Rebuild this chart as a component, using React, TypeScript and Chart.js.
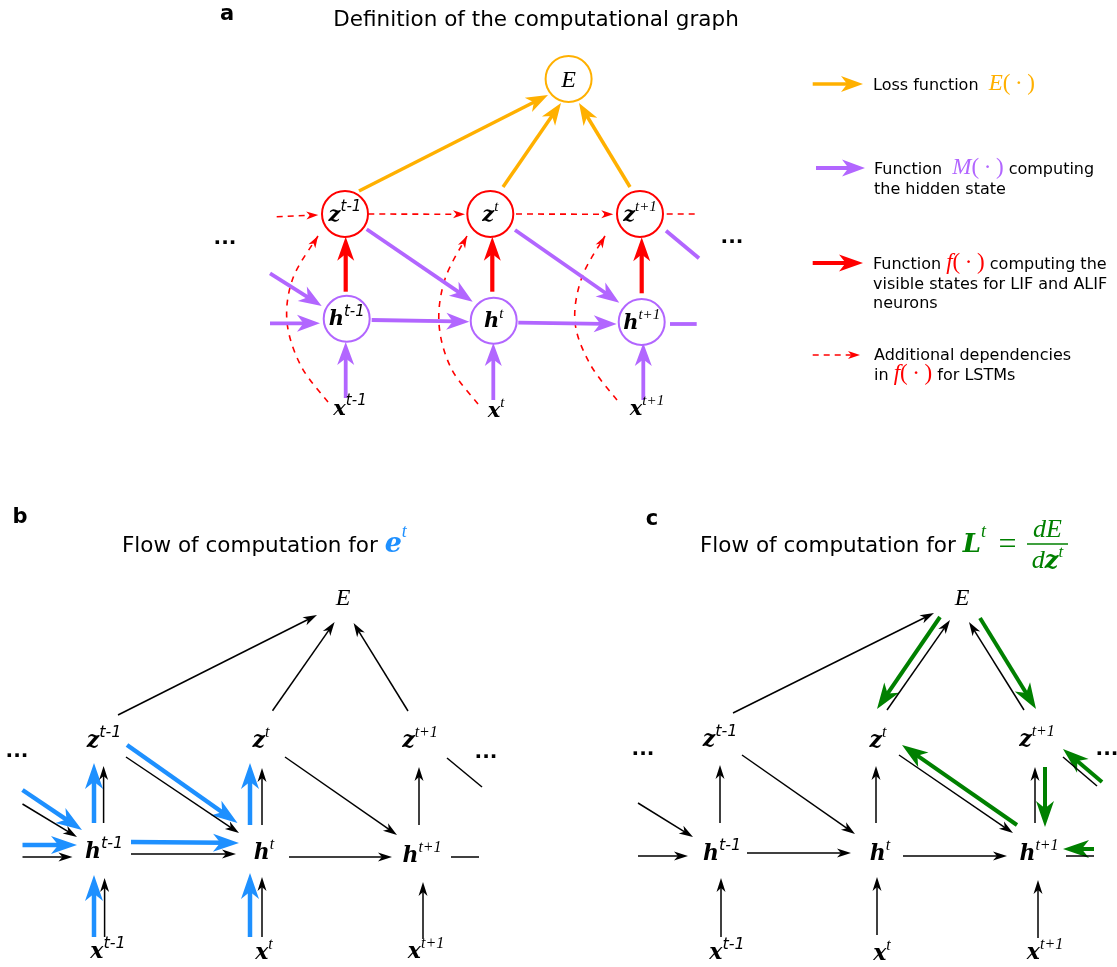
import { useEffect, useRef } from 'react';
import { Chart, registerables } from 'chart.js';

Chart.register(...registerables);

const W = 1117;
const H = 967;

const ORANGE = '#ffb000';
const PURPLE = '#b266ff';
const RED = '#ff0000';
const BLUE = '#1e90ff';
const GREEN = '#008000';
const BLACK = '#000000';

type Seg = [number, number, number, number];
type Lab = [string, string, number, number];

// ---------------- Panel a : circle nodes ----------------
const circleX = [568.6, 345, 490.3, 640, 346.7, 493.7, 641.7];
const circleY = [79, 214, 214, 214, 318.7, 320.7, 322];
const circleColor = [ORANGE, RED, RED, RED, PURPLE, PURPLE, PURPLE];

// ---------------- Panel a : edges ----------------
const lossEdgesA: Seg[] = [
  [359, 191, 548, 95],
  [503, 187, 561, 103],
  [630, 187, 579, 103],
];
const visibleEdgesA: Seg[] = [
  [345.7, 291.7, 345.7, 236.7],
  [492.3, 291.7, 492.3, 236.7],
  [641.7, 293.3, 641.7, 237.3],
];
const hiddenEdgesA: Seg[] = [
  [345.7, 398, 345.7, 342],
  [493.3, 400, 493.3, 343],
  [643.3, 400, 643.3, 343],
  [371.7, 320, 469.3, 321.7],
  [518.3, 322.7, 616.7, 324],
  [366.7, 229.3, 472.7, 301.7],
  [515, 230, 619.3, 302.7],
  [270, 273.3, 321.7, 306],
  [270, 323.3, 320, 323.3],
];
const hiddenOpenA: Seg[] = [
  [670, 324, 696.7, 324],
  [666, 230.7, 699, 258.3],
];
const lstmEdgesA: Seg[] = [
  [276.7, 216.7, 318.3, 215],
  [368.3, 214, 465, 214.3],
  [516, 214, 613.3, 214.3],
];
const lstmOpenA: Seg[] = [[666.7, 214, 696.7, 214]];
const arc1X = [328, 301, 287, 293, 318];
const arc1Y = [402, 366, 322, 278, 236];
const arc2X = [478, 451, 439, 445, 467];
const arc2Y = [404, 368, 324, 279, 236];
const arc3X = [617, 590, 575, 582, 605];
const arc3Y = [400, 364, 322, 277, 236];

// legend arrows
const legendLoss: Seg[] = [[812.7, 84, 863, 84]];
const legendHidden: Seg[] = [[816, 168, 865, 168]];
const legendVisible: Seg[] = [[812.7, 263, 863, 263]];
const legendLstm: Seg[] = [[812.7, 355, 860, 355]];

// ---------------- Panel b ----------------
const blackEdgesB: Seg[] = [
  [118, 715, 317, 615],
  [272.5, 710.7, 334.6, 622],
  [408, 711, 353.6, 623],
  [22.5, 804, 77, 837],
  [22.5, 857, 72.5, 857],
  [103.6, 823, 103.6, 766],
  [104.6, 937, 104.6, 878],
  [131, 854, 236, 854],
  [126, 757, 239, 833],
  [262, 825, 262, 768],
  [262, 937, 262, 877],
  [285, 757, 397, 835],
  [289, 857, 392, 857],
  [419, 825, 419, 767],
  [423, 939, 423, 882],
];
const blackOpenB: Seg[] = [
  [447, 758, 482, 787],
  [451, 857, 479, 857],
];
const blueEdgesB: Seg[] = [
  [22.5, 790, 82, 830],
  [22.5, 845, 77, 845],
  [94, 823, 94, 763],
  [94, 937, 94, 875],
  [131, 842, 239, 843],
  [127, 745, 237.5, 823],
  [250, 825, 250, 763],
  [250, 937, 250, 873],
];

// ---------------- Panel c ----------------
const blackEdgesC: Seg[] = [
  [733, 713, 934, 613],
  [887, 710, 950, 620],
  [1024, 710, 969, 622],
  [638, 803, 693, 837],
  [638, 856, 688, 856],
  [720, 823, 720, 765],
  [721, 937, 721, 878],
  [747, 853, 851, 853],
  [742, 755, 855, 834],
  [876, 823, 876, 766],
  [877, 935, 877, 877],
  [899, 755, 1013, 833],
  [903, 856, 1007, 856],
  [1035, 823, 1035, 767],
  [1038, 938, 1038, 880],
];
const blackOpenC: Seg[] = [
  [1063, 757, 1097, 786],
  [1066, 856, 1094, 856],
];
const greenEdgesC: Seg[] = [
  [940, 617, 877, 709],
  [980, 618, 1036, 709],
  [1017, 825, 902, 745],
  [1045, 767, 1045, 827],
  [1102, 782, 1063, 749],
  [1094, 849, 1063, 849],
];

// ---------------- labels ----------------
const varLabelsA: Lab[] = [
  ['z', 't-1', 345, 214], ['z', 't', 490.3, 214], ['z', 't+1', 640, 214],
  ['h', 't-1', 346.7, 318.7], ['h', 't', 493.7, 320.7], ['h', 't+1', 641.7, 322],
  ['x', 't-1', 350, 408], ['x', 't', 496, 410], ['x', 't+1', 647, 408],
];
const varLabelsBC: Lab[] = [
  ['z', 't-1', 104, 740], ['z', 't', 261, 740], ['z', 't+1', 420, 740],
  ['h', 't-1', 104, 851], ['h', 't', 264, 852], ['h', 't+1', 422, 855],
  ['x', 't-1', 108, 951], ['x', 't', 264, 952], ['x', 't+1', 426, 951],
  ['z', 't-1', 720, 739], ['z', 't', 878, 740], ['z', 't+1', 1037, 739],
  ['h', 't-1', 722, 853], ['h', 't', 880, 853], ['h', 't+1', 1039, 853],
  ['x', 't-1', 727, 952], ['x', 't', 882, 953], ['x', 't+1', 1045, 952],
];
const lossLabelX = [568.6, 343, 962];
const lossLabelY = [79, 597, 597];
const ellipsisX = [225, 732, 17, 486, 643, 1107];
const ellipsisY = [239, 238, 752, 753, 750, 750];

type EdgeStyle = {
  color: string;
  lw: number;
  head: number;
  hw: number;
  dash?: number[];
  curve?: boolean;
  ring?: number;
};

const S_ORANGE: EdgeStyle = { color: ORANGE, lw: 3.5, head: 22, hw: 8 };
const S_PURPLE: EdgeStyle = { color: PURPLE, lw: 3.8, head: 23, hw: 8.5 };
const S_PURPLE_OPEN: EdgeStyle = { color: PURPLE, lw: 3.8, head: 0, hw: 0 };
const S_RED: EdgeStyle = { color: RED, lw: 4.2, head: 24, hw: 8.5 };
const S_DASH: EdgeStyle = { color: RED, lw: 1.6, head: 12, hw: 4, dash: [6, 5] };
const S_DASH_OPEN: EdgeStyle = { color: RED, lw: 1.6, head: 0, hw: 0, dash: [6, 5] };
const S_CURVE: EdgeStyle = { color: RED, lw: 1.6, head: 12, hw: 4, dash: [6, 6], curve: true };
const S_BLACK: EdgeStyle = { color: BLACK, lw: 1.5, head: 14, hw: 4.5 };
const S_BLACK_OPEN: EdgeStyle = { color: BLACK, lw: 1.5, head: 0, hw: 0 };
const S_BLUE: EdgeStyle = { color: BLUE, lw: 4.5, head: 26, hw: 9 };
const S_GREEN: EdgeStyle = { color: GREEN, lw: 4, head: 26, hw: 9 };
const S_RING: EdgeStyle = { color: BLACK, lw: 2, head: 0, hw: 0, ring: 23 };

function edgeSets(segs: Seg[], st: EdgeStyle) {
  return segs.map((s) => ({
    type: 'line',
    data: [
      { x: s[0], y: s[1] },
      { x: s[2], y: s[3] },
    ],
    borderColor: st.color,
    borderWidth: 0,
    pointRadius: 0,
    pointHoverRadius: 0,
    clip: false,
    edge: st,
  }));
}

function curveSet(xs: number[], ys: number[], st: EdgeStyle) {
  return {
    type: 'line',
    data: xs.map((x, i) => ({ x, y: ys[i] })),
    borderColor: st.color,
    borderWidth: 0,
    pointRadius: 0,
    pointHoverRadius: 0,
    clip: false,
    edge: st,
  };
}

function drawHead(ctx: CanvasRenderingContext2D, tx: number, ty: number, ux: number, uy: number, st: EdgeStyle) {
  const px = -uy;
  const py = ux;
  const bx = tx - ux * st.head;
  const by = ty - uy * st.head;
  const nx = tx - ux * st.head * 0.72;
  const ny = ty - uy * st.head * 0.72;
  ctx.setLineDash([]);
  ctx.fillStyle = st.color;
  ctx.beginPath();
  ctx.moveTo(tx, ty);
  ctx.lineTo(bx + px * st.hw, by + py * st.hw);
  ctx.lineTo(nx, ny);
  ctx.lineTo(bx - px * st.hw, by - py * st.hw);
  ctx.closePath();
  ctx.fill();
}

function drawEdge(ctx: CanvasRenderingContext2D, x1: number, y1: number, x2: number, y2: number, st: EdgeStyle) {
  const dx = x2 - x1;
  const dy = y2 - y1;
  const L = Math.hypot(dx, dy) || 1;
  const ux = dx / L;
  const uy = dy / L;
  ctx.save();
  ctx.strokeStyle = st.color;
  ctx.lineWidth = st.lw;
  ctx.lineCap = 'butt';
  ctx.setLineDash(st.dash || []);
  const cut = st.head ? st.head * 0.6 : 0;
  ctx.beginPath();
  ctx.moveTo(x1, y1);
  ctx.lineTo(x2 - ux * cut, y2 - uy * cut);
  ctx.stroke();
  if (st.head) drawHead(ctx, x2, y2, ux, uy, st);
  ctx.restore();
}

// Catmull-Rom spline through the pixel positions Chart.js computed
function drawCurve(ctx: CanvasRenderingContext2D, pts: { x: number; y: number }[], st: EdgeStyle) {
  ctx.save();
  ctx.strokeStyle = st.color;
  ctx.lineWidth = st.lw;
  ctx.setLineDash(st.dash || []);
  ctx.beginPath();
  ctx.moveTo(pts[0].x, pts[0].y);
  let lastC = { x: pts[0].x, y: pts[0].y };
  for (let i = 0; i < pts.length - 1; i++) {
    const p0 = pts[Math.max(0, i - 1)];
    const p1 = pts[i];
    const p2 = pts[i + 1];
    const p3 = pts[Math.min(pts.length - 1, i + 2)];
    const c1 = { x: p1.x + (p2.x - p0.x) / 6, y: p1.y + (p2.y - p0.y) / 6 };
    const c2 = { x: p2.x - (p3.x - p1.x) / 6, y: p2.y - (p3.y - p1.y) / 6 };
    ctx.bezierCurveTo(c1.x, c1.y, c2.x, c2.y, p2.x, p2.y);
    lastC = c2;
  }
  ctx.stroke();
  const end = pts[pts.length - 1];
  const L = Math.hypot(end.x - lastC.x, end.y - lastC.y) || 1;
  drawHead(ctx, end.x, end.y, (end.x - lastC.x) / L, (end.y - lastC.y) / L, st);
  ctx.restore();
}

type Run = [string, string, string, number?];

function drawRuns(ctx: CanvasRenderingContext2D, runs: Run[], x: number, y: number, align: 'left' | 'center') {
  ctx.textBaseline = 'alphabetic';
  ctx.textAlign = 'left';
  let total = 0;
  const widths = runs.map((r) => {
    ctx.font = r[1];
    const w = ctx.measureText(r[0]).width;
    total += w;
    return w;
  });
  let cx = align === 'center' ? x - total / 2 : x;
  runs.forEach((r, i) => {
    ctx.font = r[1];
    ctx.fillStyle = r[2];
    ctx.fillText(r[0], cx, y + (r[3] || 0));
    cx += widths[i];
  });
}

const SANS = '"DejaVu Sans"';
const SERIF = '"DejaVu Serif"';
const TIMES = '"Liberation Serif"';

function supFont(sup: string, size: number) {
  return sup === 't-1' ? `italic ${size}px ${SANS}` : `italic ${size}px ${TIMES}`;
}

function drawVar(ctx: CanvasRenderingContext2D, lab: Lab, cx: number, cy: number, size: number, color: string) {
  const ss = Math.round(size * 0.72);
  const base = cy + size * 0.32;
  drawRuns(
    ctx,
    [
      [lab[0], `bold italic ${size}px ${SERIF}`, color],
      [lab[1], supFont(lab[1], ss), color, -size * 0.45],
    ],
    cx,
    base,
    'center'
  );
}

const diagramPlugin = {
  id: 'diagram',
  beforeDatasetDraw(chart: any, args: any) {
    const ds = chart.data.datasets[args.index];
    const st: EdgeStyle | undefined = ds.edge;
    if (!st) return;
    const pts = args.meta.data;
    const ctx: CanvasRenderingContext2D = chart.ctx;
    if (st.ring) {
      ctx.save();
      ctx.lineWidth = st.lw;
      pts.forEach((p: any, i: number) => {
        ctx.beginPath();
        ctx.arc(p.x, p.y, st.ring as number, 0, Math.PI * 2);
        ctx.fillStyle = '#ffffff';
        ctx.fill();
        ctx.strokeStyle = circleColor[i];
        ctx.stroke();
      });
      ctx.restore();
      return false;
    }
    if (st.curve) {
      drawCurve(ctx, pts, st);
      return false;
    }
    const a = pts[0];
    const b = pts[pts.length - 1];
    drawEdge(ctx, a.x, a.y, b.x, b.y, st);
    return false;
  },
  afterDatasetsDraw(chart: any) {
    const ctx: CanvasRenderingContext2D = chart.ctx;
    const sx = (v: number) => chart.scales.x.getPixelForValue(v);
    const sy = (v: number) => chart.scales.y.getPixelForValue(v);
    ctx.save();

    // panel letters
    ctx.fillStyle = BLACK;
    ctx.font = `bold 21px ${SANS}`;
    ctx.textAlign = 'center';
    ctx.textBaseline = 'middle';
    ctx.fillText('a', sx(227), sy(15));
    ctx.fillText('b', sx(20), sy(518));
    ctx.fillText('c', sx(652), sy(520));

    // titles
    drawRuns(ctx, [['Definition of the computational graph', `21.5px ${SANS}`, BLACK]], sx(536), sy(26), 'center');
    drawRuns(
      ctx,
      [
        ['Flow of computation for ', `21.5px ${SANS}`, BLACK],
        ['e', `bold italic 27px ${SERIF}`, BLUE],
        ['t', `italic 18px ${TIMES}`, BLUE, -15],
      ],
      sx(122),
      sy(552),
      'left'
    );
    drawRuns(
      ctx,
      [
        ['Flow of computation for ', `21.5px ${SANS}`, BLACK],
        ['L', `bold italic 26px ${SERIF}`, GREEN],
        ['t', `italic 18px ${TIMES}`, GREEN, -15],
      ],
      sx(700),
      sy(552),
      'left'
    );
    drawRuns(ctx, [['=', `32px ${TIMES}`, GREEN]], sx(1007.5), sy(554), 'center');
    // fraction dE / dz^t
    drawRuns(
      ctx,
      [
        ['d', `italic 26px ${TIMES}`, GREEN],
        ['E', `italic 26px ${TIMES}`, GREEN],
      ],
      sx(1047.5),
      sy(537),
      'center'
    );
    ctx.strokeStyle = GREEN;
    ctx.lineWidth = 1.4;
    ctx.beginPath();
    ctx.moveTo(sx(1027), sy(544));
    ctx.lineTo(sx(1068), sy(544));
    ctx.stroke();
    drawRuns(
      ctx,
      [
        ['d', `italic 26px ${TIMES}`, GREEN],
        ['z', `bold italic 24px ${SERIF}`, GREEN],
        ['t', `italic 17px ${TIMES}`, GREEN, -11],
      ],
      sx(1047.5),
      sy(568),
      'center'
    );

    // loss labels
    lossLabelX.forEach((x, i) => {
      drawRuns(ctx, [['E', `italic 24px ${TIMES}`, BLACK]], sx(x), sy(lossLabelY[i] + 8), 'center');
    });

    // variables
    varLabelsA.forEach((l) => drawVar(ctx, l, sx(l[2]), sy(l[3]), 21, BLACK));
    varLabelsBC.forEach((l) => drawVar(ctx, l, sx(l[2]), sy(l[3]), 22, BLACK));

    // ellipses
    ellipsisX.forEach((x, i) => {
      drawRuns(ctx, [['...', `bold 20px ${SANS}`, BLACK]], sx(x), sy(ellipsisY[i] + 5), 'center');
    });

    // legend texts
    const F = `16px ${SANS}`;
    const M = (s: number) => `italic ${s}px ${TIMES}`;
    const U = (s: number) => `${s}px ${TIMES}`;
    drawRuns(
      ctx,
      [
        ['Loss function  ', F, BLACK],
        ['E', M(23), ORANGE],
        ['(\u2009·\u2009)', U(23), ORANGE],
      ],
      sx(873),
      sy(90),
      'left'
    );
    drawRuns(
      ctx,
      [
        ['Function  ', F, BLACK],
        ['M', M(23), PURPLE],
        ['(\u2009·\u2009)', U(23), PURPLE],
        [' computing', F, BLACK],
      ],
      sx(874),
      sy(174),
      'left'
    );
    drawRuns(ctx, [['the hidden state', F, BLACK]], sx(874), sy(194), 'left');
    drawRuns(
      ctx,
      [
        ['Function ', F, BLACK],
        ['f', M(23), RED],
        ['(\u2009·\u2009)', U(23), RED],
        [' computing the', F, BLACK],
      ],
      sx(873),
      sy(269),
      'left'
    );
    drawRuns(ctx, [['visible states for LIF and ALIF', F, BLACK]], sx(873), sy(288.5), 'left');
    drawRuns(ctx, [['neurons', F, BLACK]], sx(873), sy(308), 'left');
    drawRuns(ctx, [['Additional dependencies', F, BLACK]], sx(874), sy(360), 'left');
    drawRuns(
      ctx,
      [
        ['in ', F, BLACK],
        ['f', M(23), RED],
        ['(\u2009·\u2009)', U(23), RED],
        [' for LSTMs', F, BLACK],
      ],
      sx(874),
      sy(380),
      'left'
    );

    ctx.restore();
  },
};

export default function App() {
  const ref = useRef<HTMLCanvasElement>(null);
  useEffect(() => {
    const nodes = {
      type: 'scatter',
      data: circleX.map((x, i) => ({ x, y: circleY[i] })),
      pointRadius: 0,
      pointHoverRadius: 0,
      borderWidth: 0,
      clip: false,
      edge: S_RING,
    };
    const datasets: any[] = [
      nodes,
      ...edgeSets(lossEdgesA, S_ORANGE),
      ...edgeSets(visibleEdgesA, S_RED),
      ...edgeSets(hiddenEdgesA, S_PURPLE),
      ...edgeSets(hiddenOpenA, S_PURPLE_OPEN),
      ...edgeSets(lstmEdgesA, S_DASH),
      ...edgeSets(lstmOpenA, S_DASH_OPEN),
      curveSet(arc1X, arc1Y, S_CURVE),
      curveSet(arc2X, arc2Y, S_CURVE),
      curveSet(arc3X, arc3Y, S_CURVE),
      ...edgeSets(legendLoss, S_ORANGE),
      ...edgeSets(legendHidden, S_PURPLE),
      ...edgeSets(legendVisible, S_RED),
      ...edgeSets(legendLstm, S_DASH),
      ...edgeSets(blackEdgesB, S_BLACK),
      ...edgeSets(blackOpenB, S_BLACK_OPEN),
      ...edgeSets(blueEdgesB, S_BLUE),
      ...edgeSets(blackEdgesC, S_BLACK),
      ...edgeSets(blackOpenC, S_BLACK_OPEN),
      ...edgeSets(greenEdgesC, S_GREEN),
    ];
    const chart = new Chart(ref.current as HTMLCanvasElement, {
      type: 'scatter',
      data: { datasets },
      options: {
        animation: false,
        responsive: false,
        devicePixelRatio: 1,
        events: [],
        layout: { padding: 0 },
        plugins: {
          legend: { display: false },
          tooltip: { enabled: false },
          title: { display: false },
        },
        scales: {
          x: { type: 'linear', min: 0, max: W, display: false },
          y: { type: 'linear', min: 0, max: H, reverse: true, display: false },
        },
      },
      plugins: [diagramPlugin],
    } as any);
    return () => chart.destroy();
  }, []);
  return (
    <div style={{ position: 'absolute', left: 0, top: 0, width: W, height: H, background: '#ffffff' }}>
      <canvas ref={ref} width={W} height={H} style={{ display: 'block' }} />
    </div>
  );
}
